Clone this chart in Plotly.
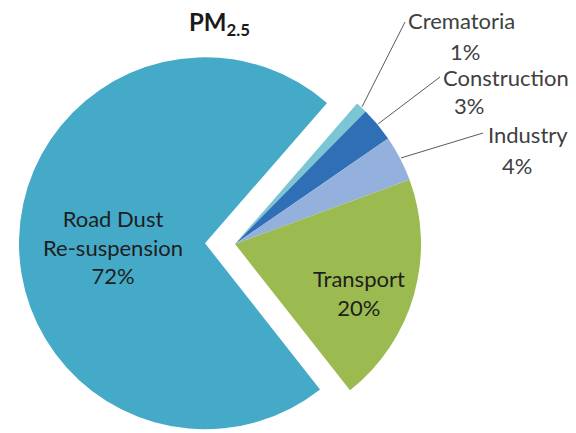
import math
import plotly.graph_objects as go

# PM2.5 source apportionment (%)
labels = ["Crematoria", "Construction", "Industry", "Transport", "Road Dust<br>Re-suspension"]
shares = [1, 3, 4, 20, 72]
colors = ["#7cc5d5", "#2f6fb5", "#94b0dc", "#9bbb50", "#45aac8"]

W, H = 576, 433
ROTATION = 41            # start of first slice, degrees clockwise from 12 o'clock
PIE_L, PIE_T, PIE_D = 49, 58, 372   # pie box: left, top, diameter (px)
PULL_PX = 30             # how far the Road Dust wedge is pulled out
FONT = "Lato"
FS = 22
IN_TXT = "#1e1e1e"
OUT_TXT = "#404040"
CLEAR = "rgba(0,0,0,0)"

total = sum(shares)
n = len(shares)
big = n - 1
pct_labels = [f"{round(100 * v / total)}%" for v in shares]


def domain(left, top, size):
    return dict(x=[left / W, (left + size) / W], y=[1 - (top + size) / H, 1 - top / H])


def paper(px, py):
    return px / W, 1 - py / H


# bisector of the pulled wedge, used to offset its box
cum_before = sum(shares[:big])
mid_big = math.radians(ROTATION + (cum_before + shares[big] / 2) / total * 360)
dx = PULL_PX * math.sin(mid_big)
dy = -PULL_PX * math.cos(mid_big)

fig = go.Figure()

# the four smaller sources (Road Dust left transparent here)
fig.add_trace(go.Pie(
    labels=labels, values=shares, sort=False, direction="clockwise", rotation=ROTATION,
    marker=dict(colors=[colors[i] if i != big else CLEAR for i in range(n)], line=dict(width=0)),
    textinfo="none", domain=domain(PIE_L, PIE_T, PIE_D), showlegend=False,
    hoverinfo="label+percent",
))

# Road Dust wedge, pulled out along its bisector
fig.add_trace(go.Pie(
    labels=labels, values=shares, sort=False, direction="clockwise", rotation=ROTATION,
    marker=dict(colors=[colors[i] if i == big else CLEAR for i in range(n)], line=dict(width=0)),
    textinfo="none", domain=domain(PIE_L + dx, PIE_T + dy, PIE_D), showlegend=False,
    hoverinfo="label+percent",
))

shapes, annotations = [], []

# labels inside the two large wedges: centre of text block in px
inside_spots = {3: (359, 293), 4: (113, 247)}
for i, (tx, ty) in inside_spots.items():
    x, y = paper(tx, ty)
    annotations.append(dict(text=f"{labels[i]}<br>{pct_labels[i]}", x=x, y=y,
                            xref="paper", yref="paper", showarrow=False,
                            xanchor="center", yanchor="middle", align="center",
                            font=dict(family=FONT, size=FS, color=IN_TXT)))

# outside labels for the small slices: (name centre, percent centre, leader end) in px
label_spots = [
    ((461, 20), (465, 51), (405, 22)),
    ((506, 77), (469, 105), (440, 77)),
    ((528, 135), (517, 165), (483, 133)),
]

cx = PIE_L + PIE_D / 2
cy = PIE_T + PIE_D / 2
R = PIE_D / 2 + 1
cum = 0
for i, v in enumerate(shares):
    mid = math.radians(ROTATION + (cum + v / 2) / total * 360)
    cum += v
    if i >= len(label_spots):
        continue
    (nx, ny), (px_, py_), (lx, ly) = label_spots[i]
    ex = cx + R * math.sin(mid)
    ey = cy - R * math.cos(mid)
    x0, y0 = paper(ex, ey)
    x1, y1 = paper(lx, ly)
    shapes.append(dict(type="line", xref="paper", yref="paper", x0=x0, y0=y0, x1=x1, y1=y1,
                       line=dict(color="#5a5a5a", width=1)))
    for txt, (tx, ty) in ((labels[i], (nx, ny)), (pct_labels[i], (px_, py_))):
        x, y = paper(tx, ty)
        annotations.append(dict(text=txt, x=x, y=y, xref="paper", yref="paper",
                                showarrow=False, xanchor="center", yanchor="middle",
                                font=dict(family=FONT, size=FS, color=OUT_TXT)))

tx, ty = paper(187, 24)
annotations.append(dict(text="<b>PM<sub>2.5</sub></b>", x=tx, y=ty,
                        xref="paper", yref="paper", showarrow=False,
                        xanchor="left", yanchor="middle",
                        font=dict(family=FONT, size=24, color="#1a1a1a")))

fig.update_layout(
    width=W, height=H, margin=dict(l=0, r=0, t=0, b=0),
    paper_bgcolor="white", plot_bgcolor="white",
    shapes=shapes, annotations=annotations,
)

fig.write_html("out.html")
